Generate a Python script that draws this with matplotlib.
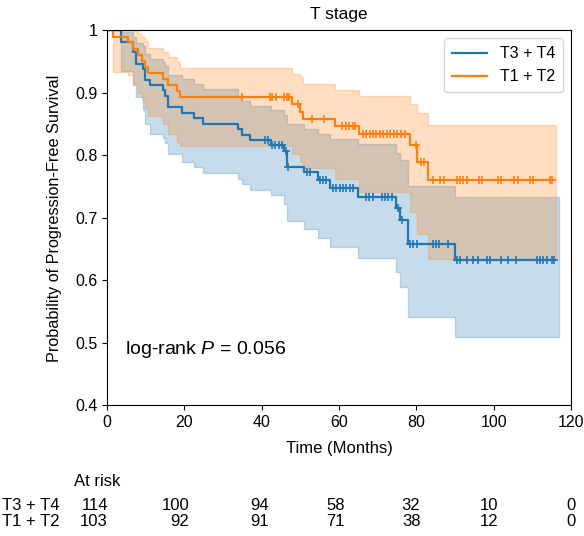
import numpy as np
import matplotlib
matplotlib.use("Agg")
import matplotlib.pyplot as plt
from matplotlib import transforms

plt.rcParams['font.family'] = ['Liberation Sans', 'DejaVu Sans']
plt.rcParams['mathtext.fontset'] = 'custom'
plt.rcParams['mathtext.it'] = 'Liberation Sans:italic'
plt.rcParams['mathtext.rm'] = 'Liberation Sans'

# T3 + T4 : step times, survival and confidence band
blue_t = [0, 3.7, 6.6, 7.6, 9.4, 9.9, 11.1, 14.6, 15.0, 15.9, 19.5, 22.5, 24.9, 34.0, 35.0,
          37.1, 42.4, 45.7, 46.6, 50.9, 54.5, 57.8, 65.0, 74.7, 75.8, 77.9, 90.1]
blue_s = [1.0, 0.982, 0.965, 0.947, 0.939, 0.921, 0.912, 0.904, 0.895, 0.877, 0.868, 0.860, 0.851,
          0.842, 0.833, 0.825, 0.816, 0.807, 0.782, 0.774, 0.761, 0.748, 0.734, 0.716, 0.697, 0.658, 0.633]
blue_hi = [1.0, 0.998, 0.99, 0.98, 0.975, 0.962, 0.955, 0.95, 0.943, 0.928, 0.922, 0.914, 0.906,
           0.895, 0.887, 0.879, 0.872, 0.865, 0.850, 0.843, 0.835, 0.826, 0.818, 0.804, 0.792, 0.751, 0.733]
blue_lo = [1.0, 0.935, 0.912, 0.893, 0.873, 0.850, 0.835, 0.828, 0.820, 0.802, 0.790, 0.781, 0.772,
           0.762, 0.755, 0.745, 0.736, 0.722, 0.695, 0.682, 0.668, 0.654, 0.636, 0.614, 0.590, 0.542, 0.510]
blue_cens = [40.9, 41.6, 42.7, 43.5, 44.4, 45.2, 46.2, 46.9, 51.6, 52.5, 55.0, 55.8, 56.6, 58.4, 59.3,
             60.2, 61.0, 61.9, 62.8, 63.7, 67.0, 67.8, 68.7, 71.0, 71.9, 72.8, 73.6, 75.2, 76.2, 78.4,
             79.2, 80.1, 84.2, 85.0, 85.9, 88.2, 90.4, 91.3, 93.0, 94.7, 96.0, 98.2, 99.0, 102.0, 103.8,
             105.9, 111.3, 112.0, 112.8, 113.7, 115.0, 115.6]
blue_end = 117.0

# T1 + T2
orange_t = [0, 1.6, 5.5, 6.8, 8.1, 9.0, 9.8, 10.7, 14.6, 15.9, 18.0, 18.9, 47.8, 49.9, 50.8,
            59.0, 65.1, 78.4, 80.3, 82.9]
orange_s = [1.0, 0.990, 0.981, 0.971, 0.961, 0.951, 0.942, 0.932, 0.922, 0.913, 0.903, 0.893,
            0.882, 0.870, 0.859, 0.847, 0.834, 0.817, 0.790, 0.761]
orange_hi = [1.0, 1.0, 1.0, 1.0, 0.995, 0.99, 0.983, 0.972, 0.966, 0.958, 0.950, 0.940,
             0.931, 0.925, 0.915, 0.905, 0.895, 0.883, 0.868, 0.848]
orange_lo = [1.0, 0.934, 0.929, 0.915, 0.900, 0.888, 0.876, 0.863, 0.851, 0.834, 0.822, 0.815,
             0.803, 0.790, 0.780, 0.762, 0.742, 0.710, 0.675, 0.634]
orange_cens = [34.8, 42.2, 42.8, 43.7, 45.9, 46.5, 47.1, 49.5, 52.9, 56.1, 60.9, 61.8, 62.7, 63.5,
               64.2, 66.1, 67.0, 67.9, 68.8, 69.7, 70.6, 71.5, 72.4, 73.3, 74.2, 75.1, 76.0, 77.0,
               79.9, 81.2, 82.0, 84.2, 86.0, 87.1, 90.4, 91.2, 92.1, 93.0, 96.3, 97.1, 101.2, 102.0,
               105.3, 106.2, 109.4, 110.3, 114.6, 115.0]
orange_end = 116.2

# at-risk table
risk_times = [0, 20, 40, 60, 80, 100, 120]
risk_blue = [114, 100, 94, 58, 32, 10, 0]
risk_orange = [103, 92, 91, 71, 38, 12, 0]

groups = [
    ("T3 + T4", "#1f77b4", blue_t, blue_s, blue_lo, blue_hi, blue_cens, blue_end),
    ("T1 + T2", "#ff7f0e", orange_t, orange_s, orange_lo, orange_hi, orange_cens, orange_end),
]

fig = plt.figure(figsize=(5.84, 5.36), dpi=100)
ax = fig.add_axes([0.1832, 0.2435, 0.7945, 0.6996])

for name, col, t, s, lo, hi, cens, end in groups:
    t = np.array(t)
    s = np.array(s)
    tb = np.append(t, end)
    ax.fill_between(tb, np.append(lo, lo[-1]), np.append(hi, hi[-1]),
                    step='post', color=col, alpha=0.25, linewidth=1)
    tl = np.append(t, cens[-1])
    ax.plot(tl, np.append(s, s[-1]), drawstyle='steps-post', color=col, lw=1.6, label=name)
    idx = np.searchsorted(t, cens, side='right') - 1
    ax.plot(cens, s[idx], ls='none', marker='+', ms=6, mew=1.2, color=col)

ax.set_xlim(0, 120)
ax.set_ylim(0.4, 1.0)
ax.set_xticks(risk_times)
ax.set_yticks([0.4, 0.5, 0.6, 0.7, 0.8, 0.9, 1.0])
ax.set_yticklabels(['0.4', '0.5', '0.6', '0.7', '0.8', '0.9', '1'])
ax.tick_params(labelsize=11.5)
ax.set_title("T stage", fontsize=12.5, pad=8.5)
ax.set_ylabel("Probability of Progression-Free Survival", fontsize=11.7, labelpad=9)
ax.set_xlabel("Time (Months)", fontsize=12, labelpad=8)
ax.legend(loc='upper right', fontsize=11.5, handlelength=2.2, borderpad=0.5)
ax.text(4.7, 0.49, r"log-rank $\it{P}$ = 0.056", fontsize=14, ha='left', va='center')

# at-risk counts below the axis, right-aligned just past each tick
tr = transforms.blended_transform_factory(ax.transData, fig.transFigure)
shift_px = [1, 5, 7, 6, 4, 5, 5]
fig.text(74 / 584, 1 - 481 / 536, "At risk", fontsize=12, ha='left', va='center')
fig.text(2 / 584, 1 - 506 / 536, "T3 + T4", fontsize=12, ha='left', va='center')
fig.text(2 / 584, 1 - 522 / 536, "T1 + T2", fontsize=12, ha='left', va='center')
for x, a, b, dx in zip(risk_times, risk_blue, risk_orange, shift_px):
    tt = transforms.offset_copy(tr, fig=fig, x=dx, y=0, units='dots')
    ax.text(x, 1 - 506 / 536, str(a), transform=tt, fontsize=12, ha='right', va='center')
    ax.text(x, 1 - 522 / 536, str(b), transform=tt, fontsize=12, ha='right', va='center')

fig.savefig("out.png", dpi=100)
